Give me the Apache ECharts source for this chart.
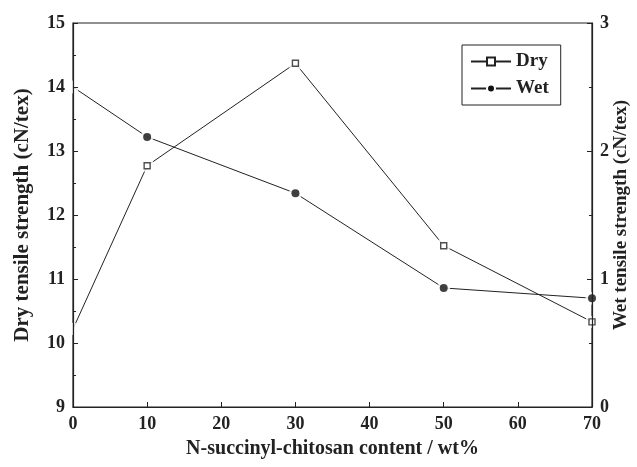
<!DOCTYPE html>
<html>
<head>
<meta charset="utf-8">
<script src="https://cdn.jsdelivr.net/npm/echarts@6/dist/echarts.min.js"></script>
<style>html,body{margin:0;padding:0;background:#fff}#c{width:637px;height:467px}</style>
</head>
<body>
<div id="c"></div>
<script>
const contents = [0, 10, 30, 50, 70];
const dryValues = [10.22, 12.77, 14.37, 11.52, 10.33];
const wetValues = [2.5, 2.11, 1.67, 0.93, 0.85];
const xTicks = [0, 10, 20, 30, 40, 50, 60, 70];
const leftTicks = [9, 10, 11, 12, 13, 14, 15];
const rightTicks = [0, 1, 2, 3];

const font = '"Liberation Serif", "DejaVu Serif", serif';
const ink = '#222';
const chart = echarts.init(document.getElementById('c'));
const dryPts = contents.map((x, i) => [x, dryValues[i]]);
const wetPts = contents.map((x, i) => [x, wetValues[i]]);
// markers sitting on the y axis are hidden behind it in the original
const markSize = (s) => (val) => (val[0] === xTicks[0] ? 0 : s);
const axisCommon = {
  z: 10,
  nameMoveOverlap: false,
  axisLine: {show: true, lineStyle: {color: ink, width: 1.2}},
  axisTick: {show: true, inside: true, length: 5, lineStyle: {color: ink}},
  minorTick: {show: true, splitNumber: 2, length: 3, lineStyle: {color: ink}},
  splitLine: {show: false},
  axisLabel: {color: ink, fontFamily: font, fontWeight: 'bold', fontSize: 18},
  nameTextStyle: {color: ink, fontFamily: font, fontWeight: 'bold', fontSize: 20}
};
chart.setOption({
  backgroundColor: '#fff',
  animation: false,
  grid: {left: 73, right: 45, top: 23, bottom: 60, outerBoundsMode: 'none', containLabel: false,
         show: true, z: 0, borderColor: ink, borderWidth: 1.2, backgroundColor: 'transparent'},
  legend: {
    data: ['Dry', {name: 'Wet', itemStyle: {borderColor: '#fff', borderWidth: 2}}],
    orient: 'vertical',
    left: 462, top: 45,
    padding: [7, 12, 7, 8],
    itemGap: 8,
    itemWidth: 40, itemHeight: 10,
    borderColor: ink, borderWidth: 1,
    textStyle: {color: ink, fontFamily: font, fontWeight: 'bold', fontSize: 19}
  },
  xAxis: Object.assign({}, axisCommon, {
    type: 'value', min: xTicks[0], max: xTicks[xTicks.length - 1], interval: 10,
    name: 'N-succinyl-chitosan content / wt%', nameLocation: 'middle', nameGap: 32,
    minorTick: {show: false},
    axisLabel: Object.assign({}, axisCommon.axisLabel, {margin: 8})
  }),
  yAxis: [
    Object.assign({}, axisCommon, {
      type: 'value', min: leftTicks[0], max: leftTicks[leftTicks.length - 1], interval: 1,
      name: 'Dry tensile strength (cN/tex)', nameLocation: 'middle', nameGap: 40,
      nameTextStyle: Object.assign({}, axisCommon.nameTextStyle, {fontSize: 21}),
      axisLabel: Object.assign({}, axisCommon.axisLabel, {margin: 8})
    }),
    Object.assign({}, axisCommon, {
      type: 'value', min: rightTicks[0], max: rightTicks[rightTicks.length - 1], interval: 1,
      position: 'right',
      name: 'Wet tensile strength (cN/tex)', nameLocation: 'middle', nameGap: 20, nameRotate: 90,
      nameTextStyle: Object.assign({}, axisCommon.nameTextStyle, {fontSize: 19}),
      axisLabel: Object.assign({}, axisCommon.axisLabel, {margin: 8})
    })
  ],
  series: [
    {
      name: 'Dry', type: 'line', yAxisIndex: 0, data: dryPts, z: 2,
      symbol: 'emptyRect', showSymbol: false,
      lineStyle: {color: ink, width: 1},
      itemStyle: {color: ink}
    },
    {
      name: 'Wet', type: 'line', yAxisIndex: 1, data: wetPts, z: 2,
      symbol: 'circle', showSymbol: false,
      lineStyle: {color: ink, width: 1},
      itemStyle: {color: '#111'}
    },
    {
      name: 'dryMask', type: 'scatter', yAxisIndex: 0, data: dryPts, z: 3, silent: true,
      symbol: 'rect', symbolSize: 12,
      itemStyle: {color: '#fff'}
    },
    {
      name: 'wetMask', type: 'scatter', yAxisIndex: 1, data: wetPts, z: 3, silent: true,
      symbol: 'circle', symbolSize: 13,
      itemStyle: {color: '#fff'}
    },
    {
      name: 'dryMarks', type: 'scatter', yAxisIndex: 0, data: dryPts, z: 4, silent: true,
      symbol: 'rect', symbolSize: markSize(6),
      itemStyle: {color: '#fff', borderColor: ink, borderWidth: 1.4}
    },
    {
      name: 'wetMarks', type: 'scatter', yAxisIndex: 1, data: wetPts, z: 4, silent: true,
      symbol: 'circle', symbolSize: markSize(8),
      itemStyle: {color: '#111'}
    }
  ]
});
</script>
</body>
</html>
